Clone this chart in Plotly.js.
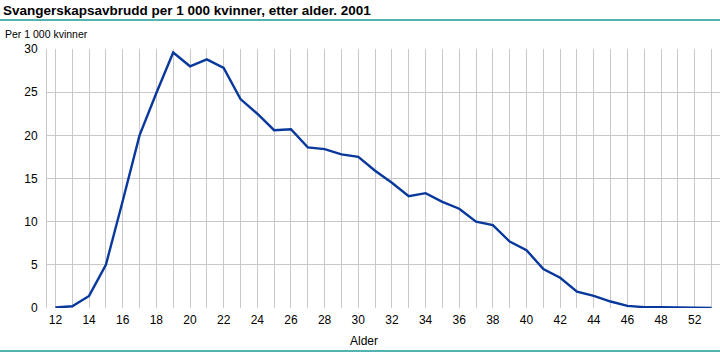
<!DOCTYPE html>
<html>
<head>
<meta charset="utf-8">
<script src="https://cdn.plot.ly/plotly-3.0.1.min.js"></script>
<style>html,body{margin:0;padding:0;background:#fff;}#chart{width:720px;height:352px;}</style>
</head>
<body>
<div id="chart"></div>
<script>
const ages = ['12','13','14','15','16','17','18','19','20','21','22','23','24','25','26','27','28','29','30','31','32','33','34','35','36','37','38','39','40','41','42','43','44','45','46','47','48','50','52','53'];
const rates = [0.05,0.2,1.4,5.0,12.4,20.0,24.9,29.6,28.0,28.8,27.8,24.2,22.5,20.6,20.7,18.6,18.4,17.8,17.5,15.9,14.5,12.95,13.3,12.3,11.5,10.0,9.6,7.7,6.7,4.5,3.5,1.9,1.4,0.75,0.25,0.1,0.1,0.05,0.0,0.0];
const labelEvery = 2;
const tickText = ages.map((a, i) => (i % labelEvery === 0 ? a : ''));
const yTicks = [0, 5, 10, 15, 20, 25, 30];

const titleText = 'Svangerskapsavbrudd per 1 000 kvinner, etter alder. 2001';
const yTitle = 'Per 1 000 kvinner';
const xTitle = 'Alder';

const FONT = 'Liberation Sans, Arial, sans-serif';
const GRID = '#c8c8c8';
const TEAL = '#1a9a96';

const L = 47, R = 0, T = 49, B = 44;
const W = 720, H = 352;
const pw = W - L - R, ph = H - T - B;
const px = x => (x - L) / pw;
const py = y => (H - B - y) / ph;

const trace = {
  x: ages, y: rates, type: 'scatter', mode: 'lines',
  line: {color: '#08389c', width: 2.4},
  hoverinfo: 'x+y'
};

const layout = {
  width: W, height: H,
  margin: {l: L, r: R, t: T, b: B},
  paper_bgcolor: '#fff', plot_bgcolor: '#fff',
  showlegend: false,
  font: {family: FONT, size: 11, color: '#000'},
  title: {
    text: '<b>' + titleText + '</b>',
    font: {family: FONT, size: 13.5, color: '#000'},
    xref: 'container', yref: 'container',
    x: 3 / W, xanchor: 'left',
    y: 1 - 10 / H, yanchor: 'middle'
  },
  xaxis: {
    type: 'category',
    range: [-0.5, ages.length - 0.5],
    tickmode: 'array', tickvals: ages, ticktext: tickText,
    showgrid: true, gridcolor: GRID, gridwidth: 1,
    showline: false, zeroline: false, ticks: '',
    ticklabelstandoff: 3,
    tickfont: {family: FONT, size: 12, color: '#000'},
    fixedrange: true
  },
  yaxis: {
    range: [0, 30],
    tickmode: 'array', tickvals: yTicks,
    showgrid: true, gridcolor: GRID, gridwidth: 1,
    showline: true, linecolor: GRID, linewidth: 1,
    zeroline: false, ticks: '',
    ticklabelstandoff: 6,
    tickfont: {family: FONT, size: 12, color: '#000'},
    fixedrange: true
  },
  shapes: [
    {type: 'line', xref: 'paper', yref: 'paper', x0: px(0), x1: px(W), y0: py(20), y1: py(20), line: {color: TEAL, width: 1.5}},
    {type: 'line', xref: 'paper', yref: 'paper', x0: px(0), x1: px(W), y0: py(351), y1: py(351), line: {color: TEAL, width: 1.5}}
  ],
  annotations: [
    {text: yTitle, xref: 'paper', yref: 'paper', x: px(3), y: py(34), xanchor: 'left', yanchor: 'middle', showarrow: false, font: {family: FONT, size: 10.5, color: '#000'}},
    {text: xTitle, xref: 'paper', yref: 'paper', x: px(363.5), y: py(341), xanchor: 'center', yanchor: 'middle', showarrow: false, font: {family: FONT, size: 12, color: '#000'}}
  ]
};

Plotly.newPlot('chart', [trace], layout, {displayModeBar: false, staticPlot: true});
</script>
</body>
</html>
